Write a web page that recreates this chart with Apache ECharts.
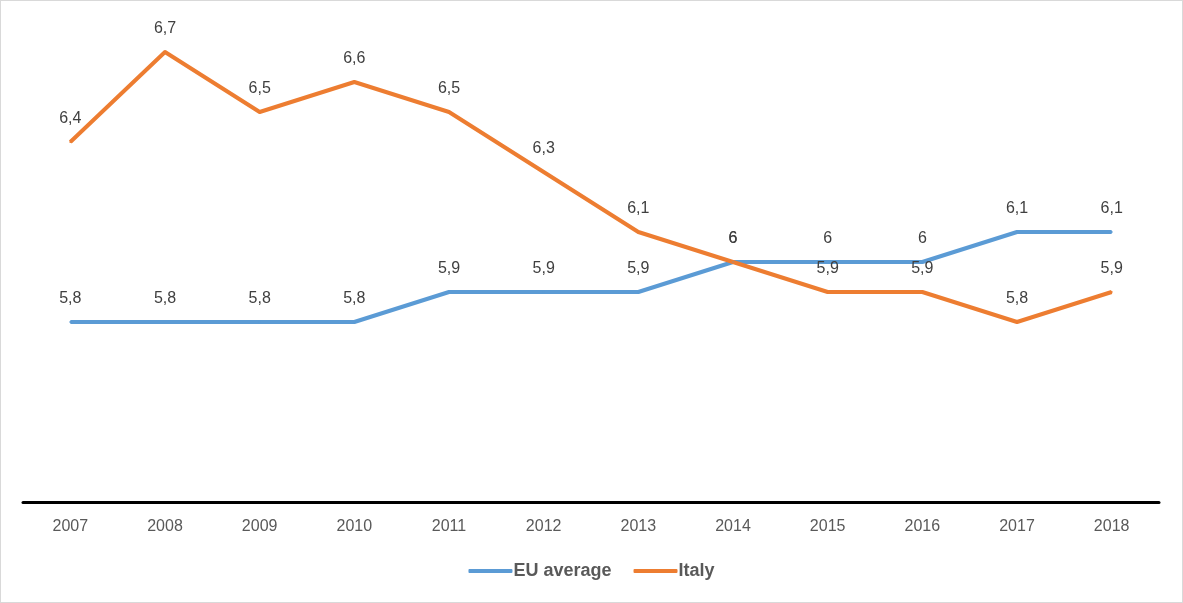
<!DOCTYPE html>
<html>
<head>
<meta charset="utf-8">
<script src="https://cdn.jsdelivr.net/npm/echarts@6/dist/echarts.min.js"></script>
<style>
html,body{margin:0;padding:0;background:#fff;}
#c{width:1181px;height:601px;border:1px solid #d9d9d9;}
</style>
</head>
<body>
<div id="c"></div>
<script>
const years = ['2007','2008','2009','2010','2011','2012','2013','2014','2015','2016','2017','2018'];
const euAverage = [5.8,5.8,5.8,5.8,5.9,5.9,5.9,6.0,6.0,6.0,6.1,6.1];
const italy = [6.4,6.7,6.5,6.6,6.5,6.3,6.1,6.0,5.9,5.9,5.8,5.9];

const fontFam = '"Liberation Sans", Arial, sans-serif';
const fmt = p => String(p.value).replace('.', ',');
const chart = echarts.init(document.getElementById('c'));
const lbl = () => ({show: true, position: 'top', distance: 14, fontSize: 16, color: '#404040', formatter: fmt});
chart.setOption({
  animation: false,
  textStyle: {fontFamily: fontFam},
  grid: {left: 22, right: 23, top: 21, bottom: 100},
  legend: {
    bottom: 17, left: 'center',
    itemWidth: 44, itemHeight: 4, itemGap: 22,
    icon: 'roundRect',
    textStyle: {fontSize: 18, fontWeight: 'bold', color: '#595959', fontFamily: fontFam, padding: [0,0,0,-4]},
    data: ['EU average', 'Italy']
  },
  xAxis: {
    type: 'category', data: years, boundaryGap: true,
    axisLine: {lineStyle: {color: '#000', width: 3}},
    axisTick: {show: false},
    axisLabel: {fontSize: 16, color: '#595959', margin: 17}
  },
  yAxis: {
    type: 'value', min: 5.2, max: 6.8, interval: 0.1,
    show: false, splitLine: {show: false}
  },
  series: [
    {
      name: 'EU average', type: 'line', data: euAverage,
      symbol: 'circle', symbolSize: 2, showSymbol: true, color: '#5B9BD5',
      lineStyle: {width: 4, color: '#5B9BD5', join: 'round'},
      label: lbl()
    },
    {
      name: 'Italy', type: 'line', data: italy,
      symbol: 'circle', symbolSize: 2, showSymbol: true, color: '#ED7D31',
      lineStyle: {width: 4, color: '#ED7D31', join: 'round'},
      label: lbl()
    }
  ]
});
</script>
</body>
</html>
